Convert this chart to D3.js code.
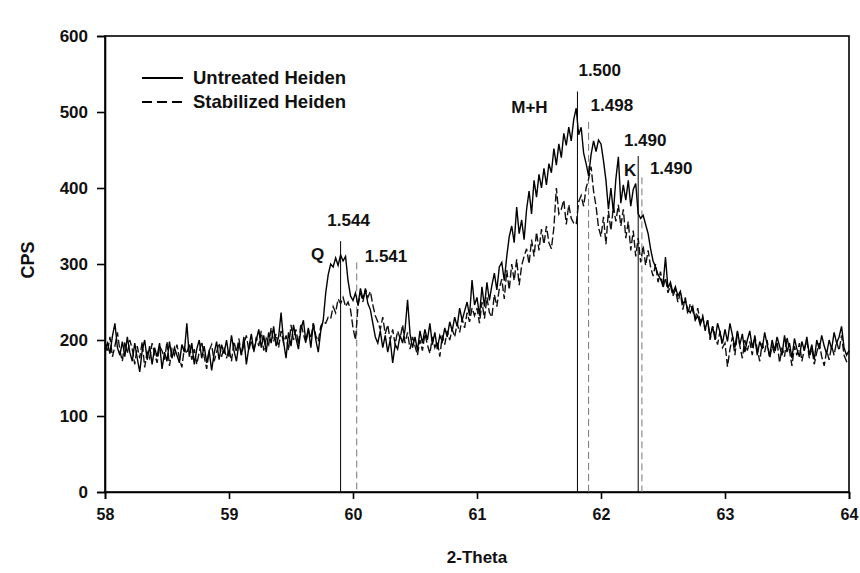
<!DOCTYPE html>
<html>
<head>
<meta charset="utf-8">
<script src="https://cdn.jsdelivr.net/npm/d3@7"></script>
<style>
  body { margin: 0; background: #fff; }
  text { font-family: "Liberation Sans", Arial, sans-serif; font-weight: bold; fill: #111; }
</style>
</head>
<body>
<svg id="chart" width="860" height="573"></svg>
<script>
// XRD scan: 2-theta from 58 to 64 degrees, 0.02 degree step
const scanStart = 58;
const scanStep = 0.02;

// Counts per second, untreated Heiden clay
const untreated = [
  188,196,182,205,222,190,180,198,178,204,
  184,172,196,176,158,186,200,174,192,168,
  190,178,196,162,184,172,198,176,190,180,
  170,194,184,222,178,196,168,188,200,176,
  192,170,186,160,182,198,174,194,182,200,
  178,206,186,172,196,180,204,168,190,208,
  186,200,214,190,206,184,210,196,218,192,
  204,236,198,176,210,192,220,202,188,214,
  226,198,216,190,222,200,184,212,226,262,
  286,300,296,308,298,312,304,310,278,258,
  252,262,246,268,254,266,248,240,222,204,
  196,212,190,206,184,200,170,194,188,206,
  196,214,253,208,190,204,186,212,196,214,
  200,222,194,210,188,206,198,216,204,224,
  212,230,218,242,226,238,250,232,279,246,
  256,232,270,244,276,252,272,288,266,296,
  302,278,310,336,350,328,375,340,358,332,
  372,396,366,410,388,418,400,426,404,432,
  420,452,430,458,440,472,456,480,462,490,
  505,470,480,446,432,416,444,462,448,463,
  458,436,410,372,400,368,412,441,380,404,
  384,410,376,398,406,366,360,364,352,340,
  320,304,296,286,280,272,309,268,276,262,
  270,258,264,248,252,240,236,244,226,232,
  220,230,214,226,204,218,200,222,210,196,
  214,198,222,206,190,212,194,208,184,200,
  212,190,204,180,198,188,210,194,178,200,
  186,204,192,180,206,184,196,176,202,188,
  178,198,186,204,180,194,174,200,188,206,
  192,182,200,188,210,196,204,218,190,180,
  186
];

// Counts per second, stabilized Heiden clay
const stabilized = [
  196,184,204,178,192,210,186,172,198,182,
  200,188,168,192,176,198,164,184,176,196,
  182,170,192,186,174,198,166,188,180,194,
  176,164,190,182,196,174,188,168,184,198,
  178,162,186,194,172,184,196,178,190,176,
  188,172,198,184,202,180,194,206,186,200,
  184,204,192,212,186,202,194,216,198,208,
  190,212,196,206,186,220,200,214,194,222,
  208,196,214,202,222,206,198,218,224,222,
  230,228,244,236,254,248,256,244,250,240,
  216,200,244,262,250,268,256,264,246,232,
  224,214,230,208,220,200,214,194,212,202,
  220,196,210,188,204,192,180,200,186,208,
  194,182,204,190,198,178,206,194,212,200,
  214,204,222,210,228,216,236,224,242,232,
  242,222,250,228,256,236,230,260,244,268,
  280,254,292,266,300,278,306,272,298,310,
  320,300,332,310,342,318,346,326,350,328,
  320,348,400,366,372,384,352,378,360,354,
  352,382,390,376,400,412,428,396,376,348,
  336,362,326,370,344,376,356,378,350,372,
  334,356,318,344,310,334,302,324,298,318,
  296,284,300,276,290,268,282,262,272,258,
  266,250,262,240,256,234,248,238,228,242,
  224,232,212,226,200,218,206,194,212,190,
  196,165,188,204,180,210,192,176,200,186,
  198,180,206,188,172,196,184,200,176,192,
  182,198,170,190,178,204,186,166,192,180,
  196,172,188,200,176,190,168,184,196,178,
  166,186,174,192,180,198,186,206,180,172,
  176
];

const seriesNames = ["Untreated Heiden", "Stabilized Heiden"];
const xTicks = [58, 59, 60, 61, 62, 63, 64];
const yTicks = [0, 100, 200, 300, 400, 500, 600];

// Reflection markers: 2-theta position, marker height (CPS), d-spacing, series
const peakAngles = [59.90, 60.03, 61.81, 61.90, 62.30, 62.33];
const peakHeights = [330, 302, 527, 487, 442, 414];
const peakDSpacings = ["1.544", "1.541", "1.500", "1.498", "1.490", "1.490"];
const peakSeries = [0, 1, 0, 1, 0, 1];

// Mineral phases: quartz, montmorillonite + halloysite, kaolinite
const phaseNames = ["Q", "M+H", "K"];
const phaseMarker = [0, 2, 4];

// ---- layout ----
const W = 860, H = 573;
const margin = { top: 36, right: 11, bottom: 81, left: 105 };
const iw = W - margin.left - margin.right;
const ih = H - margin.top - margin.bottom;

const svg = d3.select("#chart");
const g = svg.append("g").attr("transform", `translate(${margin.left},${margin.top})`);

const x = d3.scaleLinear().domain([58, 64]).range([0, iw]);
const y = d3.scaleLinear().domain([0, 600]).range([ih, 0]);

const angleAt = i => scanStart + i * scanStep;

// frame
g.append("rect")
  .attr("x", 0).attr("y", 0).attr("width", iw).attr("height", ih)
  .attr("fill", "none").attr("stroke", "#000").attr("stroke-width", 1.6);

// axes
const xAxis = g.append("g").attr("transform", `translate(0,${ih})`)
  .call(d3.axisBottom(x).tickValues(xTicks).tickFormat(d3.format("d")).tickSize(7).tickPadding(10));
const yAxis = g.append("g")
  .call(d3.axisLeft(y).tickValues(yTicks).tickFormat(d3.format("d")).tickSize(8).tickPadding(9));
[xAxis, yAxis].forEach(a => {
  a.select(".domain").attr("stroke", "#000").attr("stroke-width", 1.6);
  a.selectAll(".tick line").attr("stroke", "#000").attr("stroke-width", 1.6);
  a.selectAll(".tick text").attr("font-family", "Liberation Sans, Arial, sans-serif")
    .attr("font-weight", "bold").attr("fill", "#111");
});
yAxis.selectAll(".tick text").attr("font-size", 17);
xAxis.selectAll(".tick text").attr("font-size", 16);

// axis titles
g.append("text")
  .attr("x", iw / 2).attr("y", ih + 71)
  .attr("text-anchor", "middle").attr("font-size", 17)
  .text("2-Theta");
g.append("text")
  .attr("transform", `translate(${-71},${ih / 2 - 4}) rotate(-90)`)
  .attr("text-anchor", "middle").attr("font-size", 18)
  .text("CPS");

// reflection marker lines
const peakIdx = d3.range(peakAngles.length);
g.selectAll(".peak-line").data(peakIdx).join("line")
  .attr("class", "peak-line")
  .attr("x1", i => x(peakAngles[i])).attr("x2", i => x(peakAngles[i]))
  .attr("y1", i => y(peakHeights[i])).attr("y2", y(0))
  .attr("stroke", i => peakSeries[i] === 0 ? "#000" : "#777")
  .attr("stroke-width", 1)
  .attr("stroke-dasharray", i => peakSeries[i] === 0 ? null : "7,4");

// scan traces
const line = d3.line().x((d, i) => x(angleAt(i))).y(d => y(d));
g.append("path").datum(stabilized)
  .attr("d", line).attr("fill", "none").attr("stroke", "#111")
  .attr("stroke-width", 1.4).attr("stroke-dasharray", "8,3");
g.append("path").datum(untreated)
  .attr("d", line).attr("fill", "none").attr("stroke", "#000")
  .attr("stroke-width", 1.4);

// d-spacing labels
const dLabelPlace = [
  { dx: 8, dy: -15, anchor: "middle" },
  { dx: 8, dy: 0, anchor: "start" },
  { dx: 1, dy: -15, anchor: "start" },
  { dx: 2, dy: -11, anchor: "start" },
  { dx: 7, dy: -10, anchor: "middle" },
  { dx: 8, dy: -3, anchor: "start" }
];
g.selectAll(".dlabel").data(peakIdx).join("text")
  .attr("class", "dlabel")
  .attr("x", i => x(peakAngles[i]) + dLabelPlace[i].dx)
  .attr("y", i => y(peakHeights[i]) + dLabelPlace[i].dy)
  .attr("text-anchor", i => dLabelPlace[i].anchor)
  .attr("font-size", 17)
  .text(i => peakDSpacings[i]);

// phase labels
const phasePlace = [
  { dx: -23, dy: 19 },
  { dx: -48, dy: 22 },
  { dx: -8, dy: 20 }
];
g.selectAll(".phase").data(d3.range(phaseNames.length)).join("text")
  .attr("class", "phase")
  .attr("x", k => x(peakAngles[phaseMarker[k]]) + phasePlace[k].dx)
  .attr("y", k => y(peakHeights[phaseMarker[k]]) + phasePlace[k].dy)
  .attr("text-anchor", "middle")
  .attr("font-size", 17)
  .text(k => phaseNames[k]);

// legend
const legend = g.append("g").attr("transform", "translate(37,42)");
seriesNames.forEach((name, k) => {
  const row = legend.append("g").attr("transform", `translate(0,${k * 24})`);
  row.append("line").attr("x1", 0).attr("x2", 41).attr("y1", 0).attr("y2", 0)
    .attr("stroke", "#000").attr("stroke-width", 1.8)
    .attr("stroke-dasharray", k === 0 ? null : "10,5");
  row.append("text").attr("x", 51).attr("y", 6).attr("font-size", 18.5).text(name);
});
</script>
</body>
</html>
